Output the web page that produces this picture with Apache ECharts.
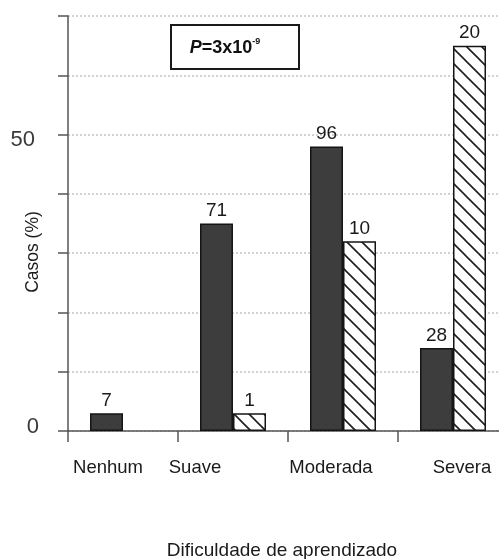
<!DOCTYPE html>
<html>
<head>
<meta charset="utf-8">
<script src="https://cdn.jsdelivr.net/npm/echarts@6/dist/echarts.min.js"></script>
<style>html,body{margin:0;padding:0;background:#fff}#c{width:499px;height:559px}</style>
</head>
<body>
<div id="c"></div>
<script>
var categories = ['Nenhum', 'Suave', 'Moderada', 'Severa'];
var darkValues = [3, 35, 48, 14];
var hatchValues = [null, 3, 32, 65];
var darkCounts = [7, 71, 96, 28];
var hatchCounts = [null, 1, 10, 20];
var yTickLabels = {0: '0', 50: '50'};

var FONT = '"Liberation Sans", Arial, sans-serif';

function makePattern() {
  var s = 15;
  var cv = document.createElement('canvas');
  cv.width = s; cv.height = s;
  var ctx = cv.getContext('2d');
  ctx.fillStyle = '#fff';
  ctx.fillRect(0, 0, s, s);
  ctx.strokeStyle = '#1e1e1e';
  ctx.lineWidth = 1.6;
  ctx.beginPath();
  ctx.moveTo(-2, -2); ctx.lineTo(s + 2, s + 2);
  ctx.moveTo(-2, s - 2); ctx.lineTo(2, s + 2);
  ctx.moveTo(s - 2, -2); ctx.lineTo(s + 2, 2);
  ctx.stroke();
  return cv;
}

var labelShift = {Nenhum: [0, 30, 0, 0], Suave: [0, 76, 0, 0], Moderada: [0, 24, 0, 0], Severa: [0, 0, 0, 18]};
var rich = {};
categories.forEach(function (c, i) {
  rich['c' + i] = {padding: labelShift[c], fontSize: 18.5, fontFamily: FONT, color: '#1a1a1a'};
});
var yRich = {
  y0: {fontSize: 22, fontFamily: FONT, color: '#3a3a3a', padding: [0, 0, 8, 0]},
  y50: {fontSize: 22, fontFamily: FONT, color: '#3a3a3a', padding: [10, 4, 0, 0]}
};

var chart = echarts.init(document.getElementById('c'));
chart.setOption({
  animation: false,
  backgroundColor: '#fff',
  textStyle: {fontFamily: FONT},
  grid: {left: 68, top: 16, width: 440, bottom: 128, containLabel: false, outerBoundsMode: 'none'},
  xAxis: {
    type: 'category',
    data: categories,
    name: 'Dificuldade de aprendizado',
    nameLocation: 'middle',
    nameGap: 110,
    nameTextStyle: {fontSize: 19, color: '#1a1a1a', fontFamily: FONT, padding: [0, 12, 0, 0]},
    axisLine: {lineStyle: {color: '#555', width: 1.5}},
    axisTick: {show: true, length: 11, lineStyle: {color: '#555', width: 1.5}},
    axisLabel: {
      margin: 27,
      formatter: function (v) { return '{c' + categories.indexOf(v) + '|' + v + '}'; },
      rich: rich
    }
  },
  yAxis: {
    type: 'value',
    min: 0, max: 70, interval: 10,
    axisLine: {show: true, lineStyle: {color: '#555', width: 1.5}},
    axisTick: {show: true, length: 10, lineStyle: {color: '#555', width: 1.5}},
    axisLabel: {
      margin: 29,
      formatter: function (v) { return yTickLabels[v] !== undefined ? '{y' + v + '|' + yTickLabels[v] + '}' : ''; },
      rich: yRich
    },
    splitLine: {show: true, lineStyle: {color: '#c4c4c4', type: [2, 2], width: 1.5}}
  },
  series: [
    {
      name: 'Série 1',
      type: 'bar',
      data: darkValues,
      barWidth: 33,
      barGap: '0%',
      itemStyle: {color: '#3d3d3d', borderColor: '#151515', borderWidth: 1.5},
      label: {
        show: true, position: 'top', distance: 3, fontSize: 19, color: '#1a1a1a', fontFamily: FONT,
        formatter: function (p) { return darkCounts[p.dataIndex]; }
      }
    },
    {
      name: 'Série 2',
      type: 'bar',
      data: hatchValues,
      barWidth: 33,
      barGap: '0%',
      itemStyle: {color: {image: makePattern(), repeat: 'repeat'}, borderColor: '#151515', borderWidth: 1.5},
      label: {
        show: true, position: 'top', distance: 3, fontSize: 19, color: '#1a1a1a', fontFamily: FONT,
        formatter: function (p) { return hatchCounts[p.dataIndex] == null ? '' : hatchCounts[p.dataIndex]; }
      }
    }
  ],
  graphic: [
    {
      type: 'text',
      x: 33, y: 252,
      rotation: Math.PI / 2,
      style: {
        text: 'Casos (%)',
        align: 'center',
        verticalAlign: 'middle',
        fontSize: 17.5,
        fontFamily: FONT,
        fill: '#1a1a1a'
      }
    },
    {
      type: 'rect',
      shape: {x: 171, y: 25, width: 128, height: 44},
      style: {fill: '#fff', stroke: '#1a1a1a', lineWidth: 2}
    },
    {
      type: 'text',
      x: 225, y: 47,
      style: {
        text: '{i|P}{n|=3x10}{s|-9}',
        align: 'center',
        verticalAlign: 'middle',
        rich: {
          i: {fontStyle: 'italic', fontWeight: 'bold', fontSize: 18, fontFamily: FONT, fill: '#111', lineHeight: 20, verticalAlign: 'bottom'},
          n: {fontWeight: 'bold', fontSize: 18, fontFamily: FONT, fill: '#111', lineHeight: 20, verticalAlign: 'bottom'},
          s: {fontWeight: 'bold', fontSize: 9, fontFamily: FONT, fill: '#111', lineHeight: 20, verticalAlign: 'top', padding: [0, 0, 10, 0]}
        }
      }
    }
  ]
});
</script>
</body>
</html>
